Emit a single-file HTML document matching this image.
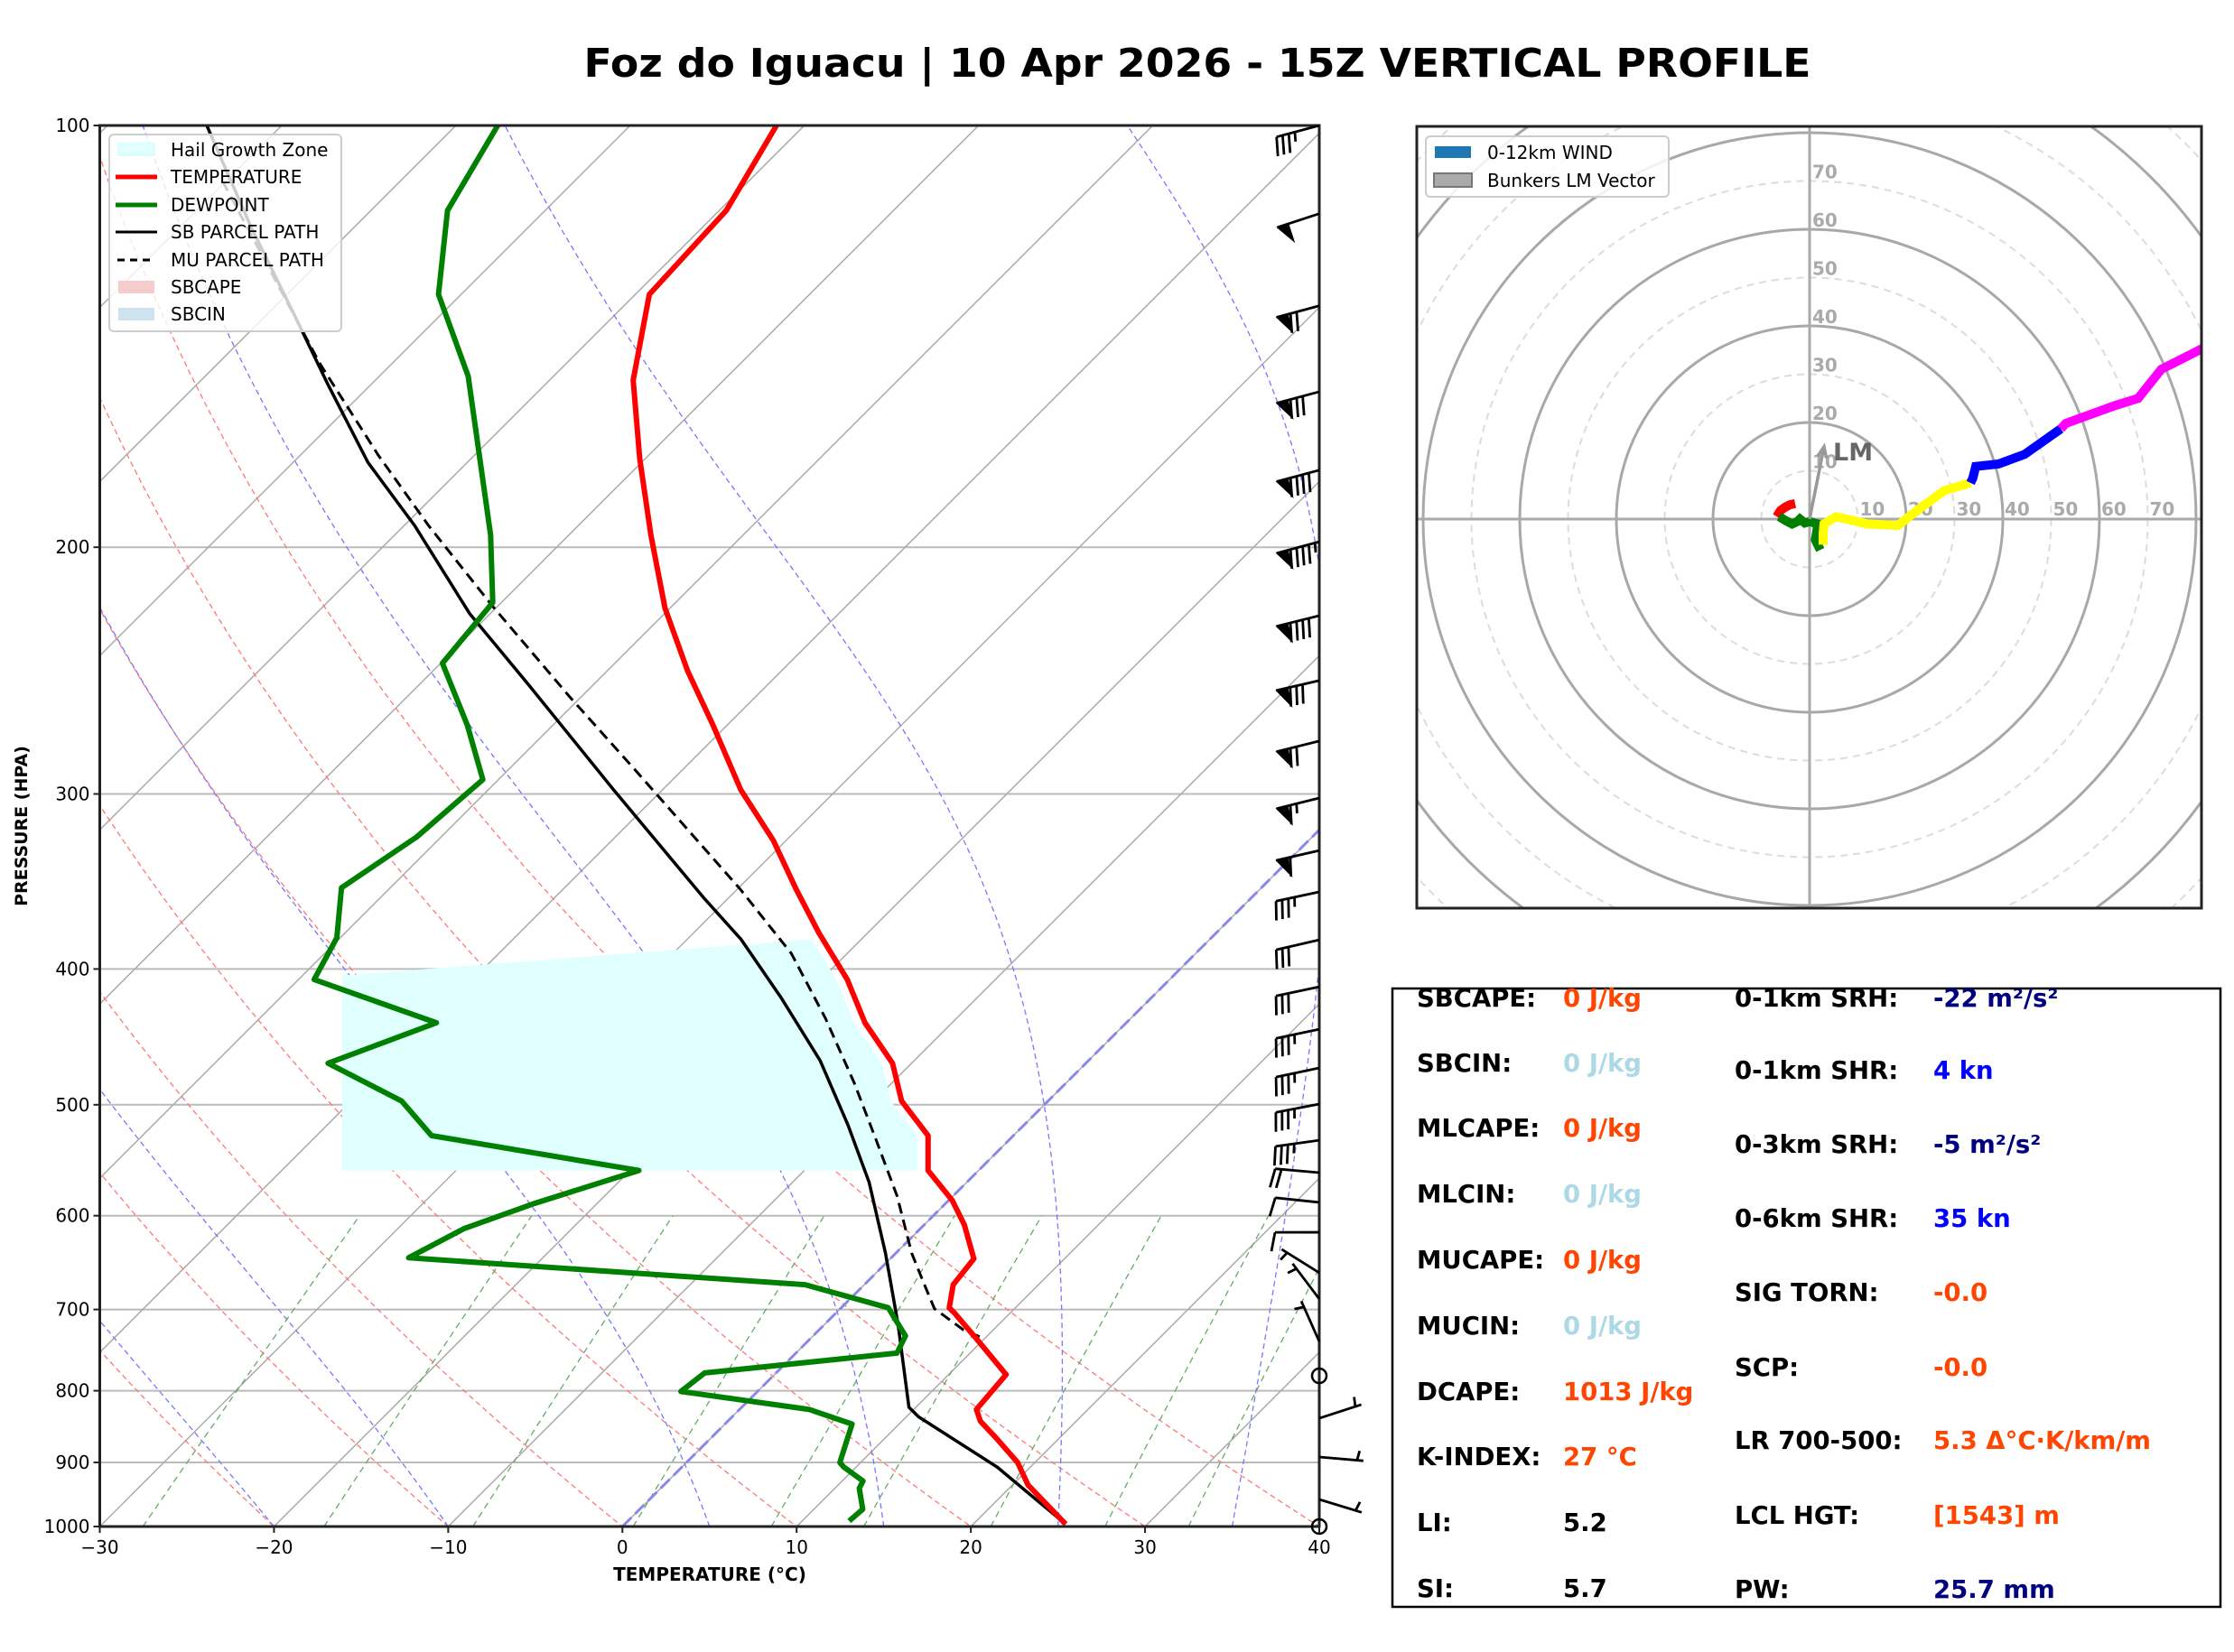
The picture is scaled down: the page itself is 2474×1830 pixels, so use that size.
<!DOCTYPE html>
<html><head><meta charset="utf-8"><title>Foz do Iguacu Vertical Profile</title>
<style>html,body{margin:0;padding:0;background:#fff}svg{display:block}text{font-family:"DejaVu Sans","Liberation Sans",sans-serif}</style>
</head><body>
<svg id="root" xmlns="http://www.w3.org/2000/svg" width="2474" height="1830" viewBox="0 0 2474 1830">
<rect x="0" y="0" width="2474" height="1830" fill="#fff"/>
<text x="1326" y="85" text-anchor="middle" font-size="44" font-weight="bold" textLength="1359" lengthAdjust="spacingAndGlyphs">Foz do Iguacu | 10 Apr 2026 - 15Z VERTICAL PROFILE</text>
<defs>
<clipPath id="skewClip"><rect x="110.5" y="139" width="1350.5" height="1552"/></clipPath>
<clipPath id="hodoClip"><rect x="1569" y="140" width="869" height="866"/></clipPath>
</defs>
<g id="skewBg" clip-path="url(#skewClip)"></g>
<g id="skewData" clip-path="url(#skewClip)"></g>
<g id="skewAxes"></g>
<g id="barbs"></g>
<g id="hodo"></g>

<g>
<rect x="121" y="149" width="257" height="218" rx="5" fill="#fff" fill-opacity="0.8" stroke="#ccc" stroke-width="2"/>
<rect x="131" y="159" width="40" height="13" fill="#e0ffff" stroke="#c0ffff"/>
<text x="189" y="173" font-size="20">Hail Growth Zone</text>
<line x1="128" y1="196" x2="174" y2="196" stroke="red" stroke-width="5"/>
<text x="189" y="203" font-size="20">TEMPERATURE</text>
<line x1="128" y1="227" x2="174" y2="227" stroke="green" stroke-width="5"/>
<text x="189" y="234" font-size="20">DEWPOINT</text>
<line x1="128" y1="257" x2="174" y2="257" stroke="#000" stroke-width="3"/>
<text x="189" y="264" font-size="20">SB PARCEL PATH</text>
<line x1="130" y1="288" x2="172" y2="288" stroke="#000" stroke-width="3" stroke-dasharray="8,6"/>
<text x="189" y="295" font-size="20">MU PARCEL PATH</text>
<rect x="131" y="311" width="40" height="14" fill="#f4cccc"/>
<text x="189" y="325" font-size="20">SBCAPE</text>
<rect x="131" y="341" width="40" height="14" fill="#cfe2f0"/>
<text x="189" y="355" font-size="20">SBCIN</text>
</g>

<g font-weight="bold" font-size="27.5">
<rect x="1542" y="1095" width="917" height="685" fill="none" stroke="#000" stroke-width="2.5"/>
<g dominant-baseline="central">
<text x="1569" y="1106">SBCAPE:</text><text x="1731" y="1106" fill="#ff4500">0 J/kg</text>
<text x="1569" y="1178">SBCIN:</text><text x="1731" y="1178" fill="#add8e6">0 J/kg</text>
<text x="1569" y="1250">MLCAPE:</text><text x="1731" y="1250" fill="#ff4500">0 J/kg</text>
<text x="1569" y="1323">MLCIN:</text><text x="1731" y="1323" fill="#add8e6">0 J/kg</text>
<text x="1569" y="1396">MUCAPE:</text><text x="1731" y="1396" fill="#ff4500">0 J/kg</text>
<text x="1569" y="1469">MUCIN:</text><text x="1731" y="1469" fill="#add8e6">0 J/kg</text>
<text x="1569" y="1542">DCAPE:</text><text x="1731" y="1542" fill="#ff4500">1013 J/kg</text>
<text x="1569" y="1614">K-INDEX:</text><text x="1731" y="1614" fill="#ff4500">27 °C</text>
<text x="1569" y="1687">LI:</text><text x="1731" y="1687">5.2</text>
<text x="1569" y="1760">SI:</text><text x="1731" y="1760">5.7</text>
<text x="1921" y="1106">0-1km SRH:</text><text x="2141" y="1106" fill="#000080">-22 m²/s²</text>
<text x="1921" y="1186">0-1km SHR:</text><text x="2141" y="1186" fill="#0000ff">4 kn</text>
<text x="1921" y="1268">0-3km SRH:</text><text x="2141" y="1268" fill="#000080">-5 m²/s²</text>
<text x="1921" y="1350">0-6km SHR:</text><text x="2141" y="1350" fill="#0000ff">35 kn</text>
<text x="1921" y="1432">SIG TORN:</text><text x="2141" y="1432" fill="#ff4500">-0.0</text>
<text x="1921" y="1515">SCP:</text><text x="2141" y="1515" fill="#ff4500">-0.0</text>
<text x="1921" y="1596">LR 700-500:</text><text x="2141" y="1596" fill="#ff4500">5.3 Δ°C·K/km/m</text>
<text x="1921" y="1679">LCL HGT:</text><text x="2141" y="1679" fill="#ff4500">[1543] m</text>
<text x="1921" y="1761">PW:</text><text x="2141" y="1761" fill="#000080">25.7 mm</text>
</g></g>
</svg>
<script>
// ---------- data ----------
const tempP = [996,934,900,865,841,825,779,734,704,698,672,644,609,585,557,526,497,467,437,407,377,351,324,298,268,245,221,196,173,152,132,115,100];
const tempT = [25.3,20.9,19.0,16.4,14.5,13.6,13.3,9.5,6.8,6.2,5.1,4.8,2.3,0.2,-2.9,-4.9,-8.4,-11.1,-15.0,-18.5,-22.8,-26.6,-30.7,-35.5,-40.8,-45.4,-50.3,-55.3,-60.3,-65.2,-69.2,-69.6,-71.6];
const dewP = [991,972,939,928,907,900,845,825,801,777,752,731,698,672,643,613,588,557,526,497,467,437,407,380,350,322,293,268,242,219,196,151,132,115,100];
const dewT = [12.7,12.8,11.4,11.2,9.3,8.8,7.3,4.0,-4.4,-4.1,5.8,5.3,2.7,-3.4,-27.7,-26.2,-23.6,-19.5,-33.4,-37.1,-43.5,-39.6,-49.1,-50.2,-52.8,-51.4,-50.9,-54.9,-59.9,-60.5,-64.5,-74.9,-81.3,-85.6,-87.6];
const sbP = [996,907,835,822,717,638,568,517,465,419,381,356,298,250,223,193,174,153,136,118,100];
const sbT = [25.3,18.1,10.7,9.6,4.2,-0.6,-5.6,-10.1,-15.4,-21.3,-26.9,-31.4,-42.8,-53.9,-61.2,-69.4,-75.7,-82.5,-88.6,-96,-104.3];
const muP = [732,724,699,670,638,581,529,482,434,390,351,288,256,220,193,172,148,127,110];
const muT = [9.6,8.3,5.4,3.3,0.9,-3.2,-7.7,-12.2,-17.5,-23.2,-29.8,-42.8,-50.6,-60.4,-68.6,-75.5,-84.1,-92.3,-100];
const hailTop = 381, hailBottom = 557;
const pTicks = [100,200,300,400,500,600,700,800,900,1000];
const tTicks = [-30,-20,-10,0,10,20,30,40];
const mixRatios = [0.4,1,2,4,7,10,16,24,32];
const moistStarts = [-20,-10,5,15,25,35];
const barbP = [100,115.6,134.5,154.9,176.2,198.2,223.8,249,275,302,329.2,352.4,381.3,411.9,441.6,470.6,499.4,530,559,587,616.6,659,688,737.8,780.6,837,892,956.5,1000];
const barbSpd = [35,50,70,80,90,95,90,80,70,65,60,35,30,30,35,35,35,35,20,10,10,5,5,5,0,5,5,5,0];
const barbDir = [255,252,255,255,255,255,256,257,256,256,257,258,257,258,258,258,259,262,275,276,270,302,323,336,0,72,95,107,0];
// hodograph segments (kn)
const hodoRedU = [-6.8,-6,-5,-4,-3];
const hodoRedV = [0.5,1.8,2.5,3,3.2];
const hodoGreenU = [-6.3,-5,-3.6,-2.5,-2,-1,0,1.7,1.5,1.2,2.2];
const hodoGreenV = [0.5,-0.3,-1,-0.5,0,-0.8,-0.5,-1,-2.5,-4.3,-6.4];
const hodoYellowU = [2.8,2.8,3,5.5,11.9,18.3,22,27.9,33.3];
const hodoYellowV = [-5.3,-3,-1,0.5,-1,-1.3,1.6,5.9,7.5];
const hodoBlueU = [33.3,33.8,34.4,39.1,44.5,52];
const hodoBlueV = [7.5,8.5,10.9,11.4,13.4,18.7];
const hodoMagU = [52,53,63.2,68,72.8,80.3,90];
const hodoMagV = [18.7,19.8,23.5,25,31,34.8,40];
const lmU = 3, lmV = 15;
const ringVals = [10,20,30,40,50,60,70,80,90,100,110];
const ringLabels = [10,20,30,40,50,60,70];

// ---------- scales ----------
const NS='http://www.w3.org/2000/svg';
const X0=110.5, X1=1461, Y0=139, Y1=1691, PXC=(X1-X0)/70;
function yP(p){return Y0+(Y1-Y0)*Math.log10(p/100);}
function xT(t,p){return X0+(t+30)*PXC+(Y1-yP(p));}
function mk(tag,attrs,parent){const e=document.createElementNS(NS,tag);for(const k in attrs)e.setAttribute(k,attrs[k]);parent.appendChild(e);return e;}
function pathFrom(ps,ts){let d='';for(let i=0;i<ps.length;i++){d+=(i?'L':'M')+xT(ts[i],ps[i]).toFixed(1)+','+yP(ps[i]).toFixed(1);}return d;}
function interp(ps,ts,p){for(let i=0;i<ps.length-1;i++){if(p<=ps[i]&&p>=ps[i+1]){const f=Math.log(p/ps[i])/Math.log(ps[i+1]/ps[i]);return ts[i]+f*(ts[i+1]-ts[i]);}}return ts[ts.length-1];}

const bg=document.getElementById('skewBg');
pTicks.forEach(p=>{const e=mk('line',{x1:X0,x2:X1,y1:yP(p),y2:yP(p),stroke:'#bbb','stroke-width':2},bg);

});
for(let t=-130;t<=40;t+=10){const e=mk('line',{x1:xT(t,1000),y1:Y1,x2:xT(t,100),y2:Y0,stroke:'#aaa','stroke-width':1.5},bg);

}
for(let th=213.15;th<=313.15;th+=10){let d='';for(let p=1050;p>=100;p-=10){const t=th*Math.pow(p/1000,0.286)-273.15;d+=(p===1050?'M':'L')+xT(t,p).toFixed(1)+','+yP(p).toFixed(1);}
const e=mk('path',{d:d,fill:'none',stroke:'#ff7777','stroke-width':1.3,'stroke-dasharray':'6,4'},bg);

}
function es(tc){return 6.112*Math.exp(17.67*tc/(tc+243.5));}
moistStarts.forEach(t0=>{let T=t0+273.15,d='M'+xT(t0,1000).toFixed(1)+','+Y1;for(let p=1000;p>100;p-=2){const tc=T-273.15;const e=es(tc);const rs=0.622*e/(p-e);const dTdp=(287*T+2.5e6*rs)/(p*(1005+(2.5e6*2.5e6*rs*0.622)/(287*T*T)));T-=dTdp*2;d+='L'+xT(T-273.15,p-2).toFixed(1)+','+yP(p-2).toFixed(1);}
const e=mk('path',{d:d,fill:'none',stroke:'#7777ff','stroke-width':1.3,'stroke-dasharray':'6,4'},bg);

});
mixRatios.forEach(w=>{let d='';for(let p=1000;p>=600;p-=20){const e=w*p/(622+w);const l=Math.log(e/6.112);const td=243.5*l/(17.67-l);d+=(p===1000?'M':'L')+xT(td,p).toFixed(1)+','+yP(p).toFixed(1);}
const e=mk('path',{d:d,fill:'none',stroke:'#66aa66','stroke-width':1.3,'stroke-dasharray':'7,5'},bg);

});
const z=mk('line',{x1:xT(0,1000),y1:Y1,x2:xT(0,100),y2:Y0,stroke:'#8888ee','stroke-width':3,'stroke-dasharray':'14,6'},bg);



// ---------- profiles ----------
const sd=document.getElementById('skewData');
(function(){let d='M379,'+yP(hailBottom).toFixed(1)+'L379,'+(yP(hailTop)+40).toFixed(1);for(let p=hailTop;p<=hailBottom;p+=4){d+='L'+(xT(interp(tempP,tempT,p),p)-12).toFixed(1)+','+yP(p).toFixed(1);}d+='Z';
const e=mk('path',{d:d,fill:'#e0ffff',stroke:'none'},sd);

})();
const mu=mk('path',{d:pathFrom(muP,muT),fill:'none',stroke:'#000','stroke-width':3,'stroke-dasharray':'12,7'},sd);


const sb=mk('path',{d:pathFrom(sbP,sbT),fill:'none',stroke:'#000','stroke-width':3.5},sd);


const dw=mk('path',{d:pathFrom(dewP,dewT),fill:'none',stroke:'green','stroke-width':6,'stroke-linejoin':'round'},sd);


const tp=mk('path',{d:pathFrom(tempP,tempT),fill:'none',stroke:'red','stroke-width':6,'stroke-linejoin':'round'},sd);



// ---------- axes ----------
const ax=document.getElementById('skewAxes');
const fr=mk('rect',{x:X0,y:Y0,width:X1-X0,height:Y1-Y0,fill:'none',stroke:'#222','stroke-width':3},ax);


pTicks.forEach(p=>{const y=yP(p);const tk=mk('line',{x1:X0-7,x2:X0,y1:y,y2:y,stroke:'#222','stroke-width':2},ax);


const t=mk('text',{x:X0-11,y:y+7,'text-anchor':'end','font-size':20},ax);t.textContent=p;

});
tTicks.forEach(v=>{const x=X0+(v+30)*PXC;const tk=mk('line',{x1:x,x2:x,y1:Y1,y2:Y1+7,stroke:'#222','stroke-width':2},ax);


const t=mk('text',{x:x,y:Y1+30,'text-anchor':'middle','font-size':20},ax);t.textContent=(v<0?'\u2212'+(-v):v);

});
const xl=mk('text',{x:786,y:1751,'text-anchor':'middle','font-size':20,'font-weight':'bold'},ax);xl.textContent='TEMPERATURE (°C)';


const yl=mk('text',{x:0,y:0,'text-anchor':'middle','font-size':19,'font-weight':'bold',transform:'translate(30,915) rotate(-90)'},ax);yl.textContent='PRESSURE (HPA)';



// ---------- barbs ----------
const bb=document.getElementById('barbs');
barbP.forEach((p,i)=>{const ay=yP(p),axx=X1;const spd=barbSpd[i];
if(spd===0){const c=mk('circle',{cx:axx,cy:ay,r:8,fill:'none',stroke:'#000','stroke-width':2.5},bb);

return;}
const r=barbDir[i]*Math.PI/180;
const sxs=Math.sin(r),sys=-Math.cos(r);
const L=49,tx=axx+sxs*L,ty=ay+sys*L;const nx=sys,ny=-sxs;
const g=mk('g',{},bb);


let d='M'+axx+','+ay+'L'+tx.toFixed(1)+','+ty.toFixed(1);
let rem=Math.round(spd/5)*5,pos=0;const H=21;let poly='';
while(rem>=50){const ax1=tx-sxs*pos,ay1=ty-sys*pos;const bx=ax1-sxs*13,by=ay1-sys*13;poly+='M'+ax1.toFixed(1)+','+ay1.toFixed(1)+'L'+(bx+nx*H).toFixed(1)+','+(by+ny*H).toFixed(1)+'L'+bx.toFixed(1)+','+by.toFixed(1)+'Z';pos+=16;rem-=50;}
while(rem>=10){const px=tx-sxs*pos,py=ty-sys*pos;d+='M'+px.toFixed(1)+','+py.toFixed(1)+'L'+(px+nx*H+sxs*4).toFixed(1)+','+(py+ny*H+sys*4).toFixed(1);pos+=7;rem-=10;}
if(rem>=5){if(pos===0)pos=7;const px=tx-sxs*pos,py=ty-sys*pos;d+='M'+px.toFixed(1)+','+py.toFixed(1)+'L'+(px+nx*H/2+sxs*2).toFixed(1)+','+(py+ny*H/2+sys*2).toFixed(1);}
const s=mk('path',{d:d,fill:'none',stroke:'#000','stroke-width':2.8},g);


if(poly){const f=mk('path',{d:poly,fill:'#000',stroke:'#000','stroke-width':1},g);

}});

// ---------- hodograph ----------
const hg=document.getElementById('hodo');
const CX=2004,CY=575,K=5.35;
function hx(u){return CX+u*K;} function hy(v){return CY-v*K;}
const hc=mk('g',{'clip-path':'url(#hodoClip)'},hg);


ringVals.forEach(r=>{const solid=(r%20===0);const c=mk('circle',{cx:CX,cy:CY,r:r*K,fill:'none',stroke:solid?'#a8a8a8':'#dcdcdc','stroke-width':solid?3:2,'stroke-dasharray':solid?'none':'8,6'},hc);

});
const ha=mk('path',{d:'M1569,'+CY+'H2438M'+CX+',140V1006',stroke:'#aaa','stroke-width':3},hc);


ringLabels.forEach(r=>{const t=mk('text',{x:CX+r*K+2,y:CY-4,'font-size':20,'font-weight':'bold',fill:'#aaa'},hc);t.textContent=r;


const t2=mk('text',{x:CX+3,y:CY-r*K-3,'font-size':20,'font-weight':'bold',fill:'#aaa'},hc);t2.textContent=r;

});
[[hodoRedU,hodoRedV,'red','hodo-0-1km'],[hodoGreenU,hodoGreenV,'green','hodo-1-3km'],[hodoYellowU,hodoYellowV,'yellow','hodo-3-6km'],[hodoBlueU,hodoBlueV,'blue','hodo-6-9km'],[hodoMagU,hodoMagV,'magenta','hodo-9-12km']].forEach(s=>{let d='';s[0].forEach((u,i)=>{d+=(i?'L':'M')+hx(u).toFixed(1)+','+hy(s[1][i]).toFixed(1);});
const e=mk('path',{d:d,fill:'none',stroke:s[2],'stroke-width':10},hc);

});
const ang=Math.atan2(-lmV,lmU);const lx=hx(lmU),ly=hy(lmV);
const lm=mk('path',{d:'M'+CX+','+CY+'L'+lx.toFixed(1)+','+ly.toFixed(1)+'M'+(lx-12*Math.cos(ang)+5*Math.sin(ang)).toFixed(1)+','+(ly-12*Math.sin(ang)-5*Math.cos(ang)).toFixed(1)+'L'+lx.toFixed(1)+','+ly.toFixed(1)+'L'+(lx-12*Math.cos(ang)-5*Math.sin(ang)).toFixed(1)+','+(ly-12*Math.sin(ang)+5*Math.cos(ang)).toFixed(1),fill:'none',stroke:'#999','stroke-width':3.5},hc);


const lt=mk('text',{x:lx+10,y:ly+15,'font-size':27,'font-weight':'bold',fill:'#666'},hc);lt.textContent='LM';


const hf=mk('rect',{x:1569,y:140,width:869,height:866,fill:'none',stroke:'#222','stroke-width':3},hg);


const hl=mk('g',{},hg);


const hlf=mk('rect',{x:1579,y:151,width:269,height:67,rx:5,fill:'#fff','fill-opacity':0.85,stroke:'#ccc','stroke-width':2},hl);


const s1=mk('rect',{x:1589,y:162,width:40,height:13,fill:'#1f77b4'},hl);


const t1=mk('text',{x:1647,y:176,'font-size':20},hl);t1.textContent='0-12km WIND';


const s2=mk('rect',{x:1588,y:192,width:42,height:15,fill:'#aaa',stroke:'#777','stroke-width':2},hl);


const t2=mk('text',{x:1647,y:207,'font-size':20},hl);t2.textContent='Bunkers LM Vector';


</script>
</body></html>
